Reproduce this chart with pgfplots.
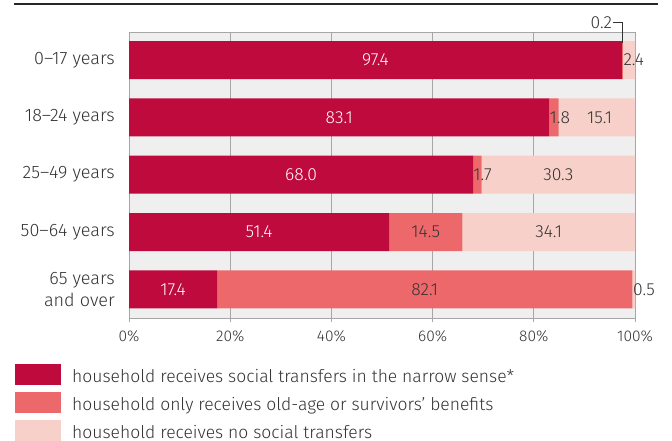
\documentclass[border=0pt]{standalone}
\usepackage{pgfplots}
\pgfplotsset{compat=1.18}
\usepackage{fontspec}
\setmainfont{Fira Sans Light}
\definecolor{cdark}{RGB}{190,10,60}
\definecolor{cmid}{RGB}{237,104,106}
\definecolor{clight}{RGB}{248,208,202}
\definecolor{bggray}{RGB}{239,239,239}
\definecolor{gridgray}{RGB}{166,166,166}
\definecolor{textgray}{RGB}{51,51,51}
\tikzset{vl/.style={font=\fontsize{17.5}{19}\selectfont, inner sep=0pt}}
\begin{document}
\begin{tikzpicture}[x=1pt,y=1pt]
\useasboundingbox (0,0) rectangle (672,-441);
\draw[line width=1.6pt, black!85] (14,-4) -- (658,-4);
\begin{axis}[
  at={(129pt,-318pt)}, anchor=south west,
  scale only axis, width=506pt, height=286pt,
  xbar stacked, bar width=38pt,
  xmin=0, xmax=100, ymin=-0.49, ymax=4.5, y dir=reverse,
  ytick={0,1,2,3,4},
  yticklabels={0–17 years,18–24 years,25–49 years,50–64 years,{65 years\\and over}},
  yticklabel style={align=right, font=\fontsize{18}{22}\selectfont, text=textgray, inner sep=0pt, xshift=-14pt},
  ytick style={draw=none},
  xtick={0,20,40,60,80,100},
  /pgf/number format/assume math mode=true,
  xticklabel={\pgfmathprintnumber{\tick}\%},
  xticklabel style={font=\fontsize{15.5}{17}\selectfont, text=textgray, inner sep=0pt, yshift=-8pt},
  xtick pos=bottom, xtick align=outside, major tick length=4pt,
  tick style={gridgray, line width=1pt},
  xmajorgrids, major grid style={gridgray, line width=1pt},
  axis line style={gridgray, line width=1pt},
  axis background/.style={fill=bggray},
  clip=false,
  legend image code/.code={\fill[#1] (0pt,-7.5pt) rectangle (46pt,13.5pt);},
  legend style={at={(axis description cs:-0.2253,-0.1608)}, anchor=north west,
    draw=none, fill=none, inner sep=0pt, row sep=7pt,
    nodes={inner sep=0pt, text height=12pt, text depth=2.5pt},
    font=\fontsize{17.5}{19}\selectfont, text=textgray,
    /tikz/every odd column/.append style={column sep=11pt}},
  legend cell align=left,
]
\addplot[fill=cdark, draw=none] coordinates {(97.4,0) (83.1,1) (68.0,2) (51.4,3) (17.4,4)};
\addlegendentry{household receives social transfers in the narrow sense*}
\addplot[fill=cmid, draw=none] coordinates {(0.2,0) (1.8,1) (1.7,2) (14.5,3) (82.1,4)};
\addlegendentry{household only receives old-age or survivors' benefits}
\addplot[fill=clight, draw=none] coordinates {(2.4,0) (15.1,1) (30.3,2) (34.1,3) (0.5,4)};
\addlegendentry{household receives no social transfers}
\coordinate (a0) at (axis cs:48.7,0);
\coordinate (a1) at (axis cs:41.55,1);
\coordinate (a2) at (axis cs:34.0,2);
\coordinate (a3) at (axis cs:25.7,3);
\coordinate (a4) at (axis cs:8.7,4);
\coordinate (b1) at (axis cs:83.1,1);
\coordinate (b2) at (axis cs:68.0,2);
\coordinate (b3) at (axis cs:58.65,3);
\coordinate (b4) at (axis cs:58.45,4);
\coordinate (c0) at (axis cs:97.7,0);
\coordinate (c1) at (axis cs:93.0,1);
\coordinate (c2) at (axis cs:84.85,2);
\coordinate (c3) at (axis cs:82.95,3);
\coordinate (c4) at (axis cs:99.6,4);
\coordinate (d0) at (axis cs:97.5,-0.29);
\coordinate (d1) at (axis cs:97.5,-0.66);
\coordinate (d2) at (axis cs:95.6,-0.66);
\coordinate (d3) at (axis cs:95.5,-0.66);
\end{axis}
\node[vl, white] at (a0) {97.4};
\node[vl, white] at (a1) {83.1};
\node[vl, white] at (a2) {68.0};
\node[vl, white] at (a3) {51.4};
\node[vl, white] at (a4) {17.4};
\node[vl, textgray, anchor=west] at (b1) {1.8};
\node[vl, textgray, anchor=west] at (b2) {1.7};
\node[vl, textgray] at (b3) {14.5};
\node[vl, textgray] at (b4) {82.1};
\node[vl, textgray, anchor=west] at (c0) {2.4};
\node[vl, textgray] at (c1) {15.1};
\node[vl, textgray] at (c2) {30.3};
\node[vl, textgray] at (c3) {34.1};
\node[vl, textgray, anchor=west] at (c4) {0.5};
\draw[textgray, line width=0.9pt] (d0) -- (d1) -- (d2);
\node[vl, textgray, anchor=east] at (d3) {0.2};
\end{tikzpicture}
\end{document}
